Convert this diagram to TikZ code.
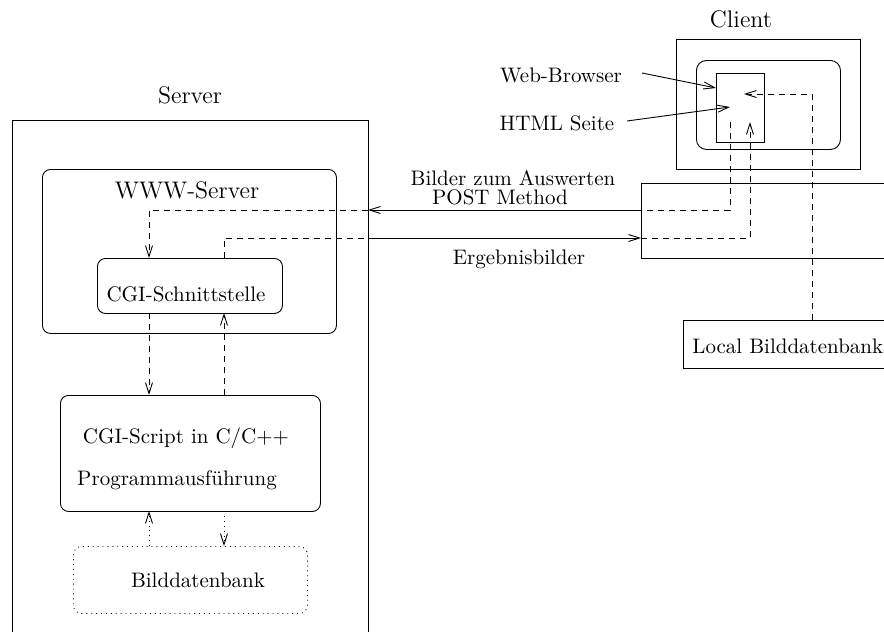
\documentclass[tikz,border=0pt]{standalone}
\usetikzlibrary{arrows.meta}
\begin{document}
\begin{tikzpicture}[x=0.5pt,y=-0.5pt,
  line width=0.45pt,
  box/.style={draw,rectangle,inner sep=0pt,anchor=north west},
  rbox/.style={box,rounded corners=4pt},
  dbox/.style={rbox,dotted},
  lbl/.style={inner sep=0pt,font=\fontsize{10.5}{12}\selectfont},
  big/.style={inner sep=0pt,font=\large},
  tip/.style={-{Straight Barb[length=5.5pt,width=3.5pt,line width=0.45pt]}},
  dsh/.style={dash pattern=on 3pt off 2.5pt},
  dot/.style={dotted}]
\useasboundingbox (0,0) rectangle (884,632);
\clip (0,0) rectangle (884,632);
% Server
\node[big] (servert) at (190,95) {Server};
\node[box,minimum width=178pt,minimum height=280pt] (server) at (12,120) {};
\node[rbox,minimum width=147pt,minimum height=82pt] (www) at (42,169) {};
\node[big] (wwwt) at (187,190) {WWW-Server};
\node[rbox,minimum width=92.5pt,minimum height=27.5pt] (cgis) at (97,258) {};
\node[lbl] (cgist) at (186,294) {CGI-Schnittstelle};
\node[rbox,minimum width=130pt,minimum height=58pt] (script) at (60,395) {};
\node[lbl] (scriptt1) at (186,438) {CGI-Script in C/C++};
\node[lbl] (scriptt2) at (177,480) {Programmausf\"uhrung};
\node[dbox,minimum width=117pt,minimum height=33.5pt] (bdb) at (73,546) {};
\node[lbl] (bdbt) at (198,580) {Bilddatenbank};
% Client
\node[big] (clientt) at (741,19) {Client};
\node[box,minimum width=92pt,minimum height=65pt] (client) at (676,39) {};
\node[rbox,minimum width=72pt,minimum height=44.5pt,rounded corners=5pt] (browser) at (696,60) {};
\node[box,minimum width=24pt,minimum height=34.5pt] (html) at (716,73) {};
\node[lbl] (webt) at (561,75) {Web-Browser};
\node[lbl] (htmlt) at (557,123) {HTML Seite};
\node[box,minimum width=140pt,minimum height=37.5pt] (net) at (641,183) {};
\node[box,minimum width=115pt,minimum height=24pt] (local) at (683,320) {};
\node[lbl,anchor=west] (localt) at (692,346) {Local Bilddatenbank};
% labels
\node[lbl] (l1) at (513,178) {Bilder zum Auswerten};
\node[lbl] (l2) at (500,197) {POST Method};
\node[lbl] (l3) at (519,259) {Ergebnisbilder};
% coordinates
\coordinate (wb0) at (642,73);
\coordinate (wb1) at (716,88);
\coordinate (hs0) at (627,121);
\coordinate (hs1) at (730,107);
\coordinate (p0) at (730,122);
\coordinate (p1) at (641,210);
\coordinate (p2) at (368,210);
\coordinate (p3) at (149,258);
\coordinate (e0) at (224,258);
\coordinate (e1) at (368,238);
\coordinate (e2) at (641,238);
\coordinate (e3) at (750,122);
\coordinate (lb0) at (812,320);
\coordinate (lb1) at (744,94);
\coordinate (s0) at (149,313);
\coordinate (s1) at (149,395);
\coordinate (s2) at (224,395);
\coordinate (s3) at (224,313);
\coordinate (d0) at (149,546);
\coordinate (d1) at (149,511);
\coordinate (d2) at (224,511);
\coordinate (d3) at (224,546);
% connectors
\draw[tip] (wb0) -- (wb1);
\draw[tip] (hs0) -- (hs1);
\draw[dsh] (p0) |- (p1);
\draw[tip] (p1) -- (p2);
\draw[dsh,tip] (p2) -| (p3);
\draw[dsh] (e0) |- (e1);
\draw[tip] (e1) -- (e2);
\draw[dsh,tip] (e2) -| (e3);
\draw[dsh,tip] (lb0) |- (lb1);
\draw[dsh,tip] (s0) -- (s1);
\draw[dsh,tip] (s2) -- (s3);
\draw[dot,tip] (d0) -- (d1);
\draw[dot,tip] (d2) -- (d3);
\end{tikzpicture}
\end{document}
